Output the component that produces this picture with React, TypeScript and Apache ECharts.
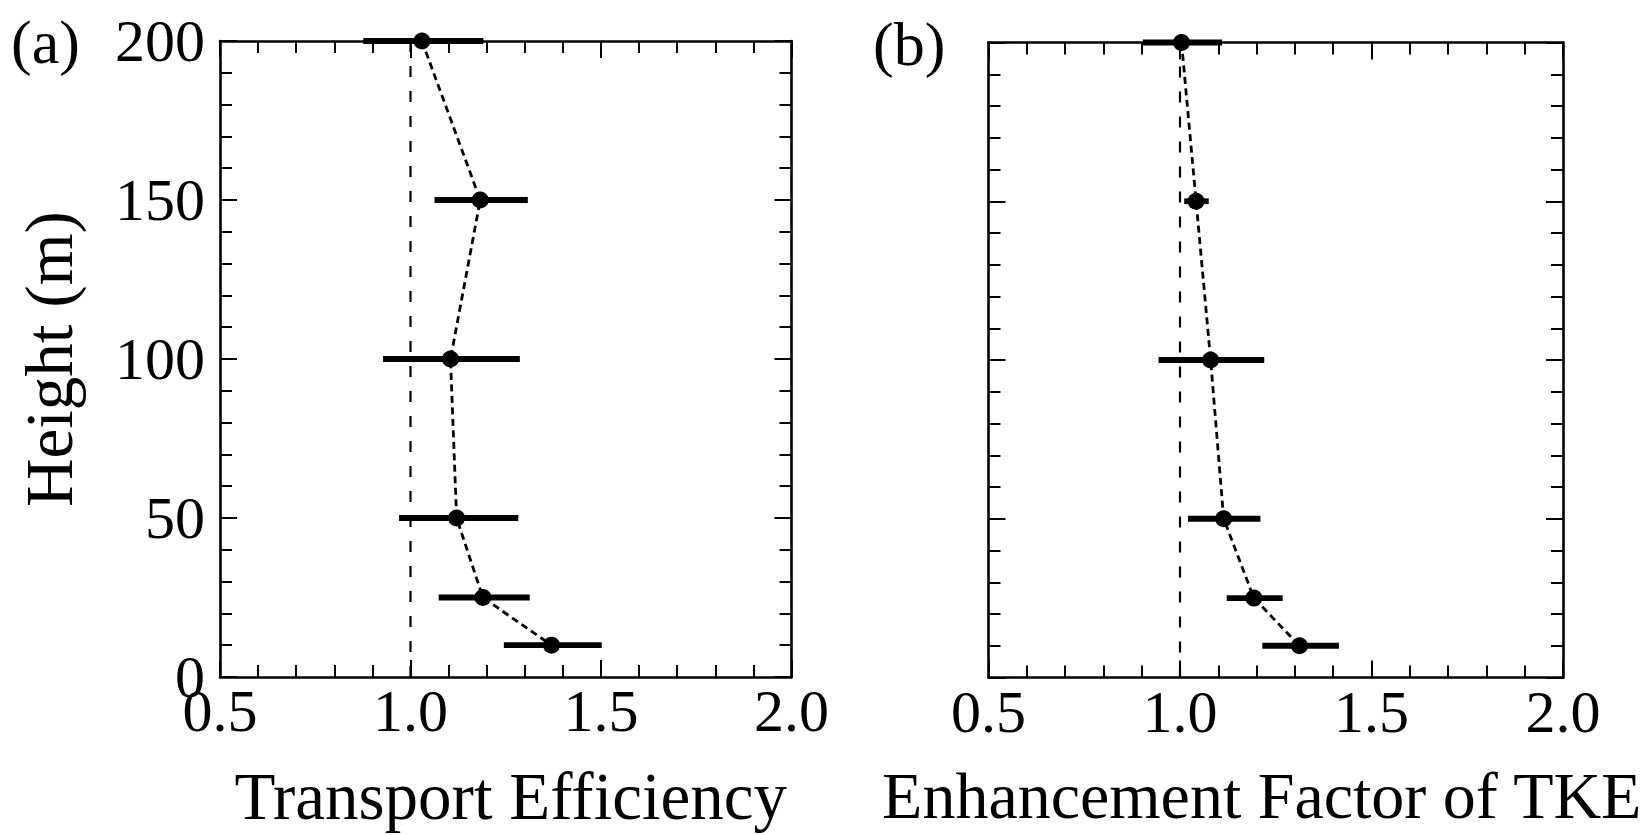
import React, { useEffect, useRef } from "react";
import * as echarts from "echarts";

// ---- data ----
const heights = [200, 150, 100, 50, 25, 10];
const teMean = [1.03, 1.183, 1.105, 1.121, 1.19, 1.37];
const teLow = [0.876, 1.063, 0.928, 0.97, 1.074, 1.245];
const teHigh = [1.191, 1.308, 1.287, 1.283, 1.313, 1.502];
const tkeMean = [1.004, 1.042, 1.08, 1.114, 1.193, 1.312];
const tkeLow = [0.903, 1.011, 0.944, 1.021, 1.122, 1.215];
const tkeHigh = [1.11, 1.075, 1.22, 1.21, 1.268, 1.415];
const refValue = 1.0;
const xRange = [0.5, 2.0];
const xStep = 0.5;
const yRange = [0, 200];
const yStep = 50;
const panelLabels = ["(a)", "(b)"];
const xNames = ["Transport Efficiency", "Enhancement Factor of TKE"];
const yName = "Height (m)";

const FONT = '"Liberation Serif", "Times New Roman", serif';
const BLACK = "#000";

const grids = [
  { left: 220, top: 41, width: 571.5, height: 636 },
  { left: 988.5, top: 42.5, width: 574.5, height: 635 },
];
const xNameFont = [67, 66];
const xNamePadding = [
  [0, 0, 0, 10],
  [0, 28, 0, 0],
];

function axisBase(gridIndex: number, isX: boolean) {
  return {
    type: "value",
    gridIndex,
    min: isX ? xRange[0] : yRange[0],
    max: isX ? xRange[1] : yRange[1],
    interval: isX ? xStep : yStep,
    axisLine: { show: true, onZero: false, lineStyle: { color: BLACK, width: 2.6 } },
    axisTick: { show: true, inside: true, length: 17, lineStyle: { color: BLACK, width: 2 } },
    minorTick: { show: true, splitNumber: 5, length: 12, lineStyle: { color: BLACK, width: 2 } },
    splitLine: { show: false },
    minorSplitLine: { show: false },
  };
}

function buildSeries(gridIndex: number, mean: number[], low: number[], high: number[]) {
  const xi = gridIndex * 2;
  const yi = gridIndex * 2;
  return [
    {
      type: "line",
      xAxisIndex: xi,
      yAxisIndex: yi,
      data: [
        [refValue, yRange[0]],
        [refValue, yRange[1]],
      ],
      symbol: "none",
      lineStyle: { color: BLACK, width: 2.2, type: [11, 14] },
      z: 1,
      silent: true,
    },
    {
      type: "custom",
      xAxisIndex: xi,
      yAxisIndex: yi,
      data: heights.map((h, i) => [low[i], high[i], h]),
      encode: { x: [0, 1], y: 2 },
      renderItem: (params: any, api: any) => {
        const p1 = api.coord([api.value(0), api.value(2)]);
        const p2 = api.coord([api.value(1), api.value(2)]);
        return {
          type: "line",
          shape: { x1: p1[0], y1: p1[1], x2: p2[0], y2: p2[1] },
          style: { stroke: BLACK, lineWidth: 5.8 },
        };
      },
      z: 2,
    },
    {
      type: "line",
      xAxisIndex: xi,
      yAxisIndex: yi,
      data: heights.map((h, i) => [mean[i], h]),
      symbol: "circle",
      symbolSize: 17,
      showSymbol: true,
      itemStyle: { color: BLACK },
      lineStyle: { color: BLACK, width: 2.8, type: [7, 4.5] },
      z: 3,
    },
  ];
}

export default function App() {
  const ref = useRef<HTMLDivElement>(null);
  useEffect(() => {
    if (!ref.current) return;
    const chart = echarts.init(ref.current, null, { renderer: "svg" });
    const xAxes: any[] = [];
    const yAxes: any[] = [];
    [0, 1].forEach((g) => {
      xAxes.push({
        ...axisBase(g, true),
        position: "bottom",
        name: xNames[g],
        nameLocation: "middle",
        nameGap: 85,
        nameTextStyle: {
          fontFamily: FONT,
          fontSize: xNameFont[g],
          color: BLACK,
          padding: xNamePadding[g],
        },
        axisLabel: {
          show: true,
          fontFamily: FONT,
          fontSize: 60,
          color: BLACK,
          margin: 4,
          formatter: (v: number) => v.toFixed(1),
        },
      });
      xAxes.push({ ...axisBase(g, true), position: "top", axisLabel: { show: false } });
      yAxes.push({
        ...axisBase(g, false),
        position: "left",
        name: g === 0 ? yName : "",
        nameLocation: "middle",
        nameGap: 138,
        nameTextStyle: { fontFamily: FONT, fontSize: 67, color: BLACK },
        axisLabel: {
          show: g === 0,
          fontFamily: FONT,
          fontSize: 60,
          color: BLACK,
          margin: 15,
        },
      });
      yAxes.push({ ...axisBase(g, false), position: "right", axisLabel: { show: false } });
    });

    chart.setOption({
      animation: false,
      backgroundColor: "#fff",
      grid: grids.map((g) => ({ ...g, containLabel: false, outerBoundsMode: "none" })),
      xAxis: xAxes,
      yAxis: yAxes,
      series: [
        ...buildSeries(0, teMean, teLow, teHigh),
        ...buildSeries(1, tkeMean, tkeLow, tkeHigh),
      ],
      graphic: [
        {
          type: "text",
          x: 11,
          y: 42,
          style: {
            text: panelLabels[0],
            fontFamily: FONT,
            fontSize: 62,
            fill: BLACK,
            align: "left",
            verticalAlign: "middle",
          },
        },
        {
          type: "text",
          x: 873,
          y: 44,
          style: {
            text: panelLabels[1],
            fontFamily: FONT,
            fontSize: 62,
            fill: BLACK,
            align: "left",
            verticalAlign: "middle",
          },
        },
      ],
    });
    return () => chart.dispose();
  }, []);
  return (
    <div
      ref={ref}
      style={{ position: "fixed", left: 0, top: 0, width: 1650, height: 835, background: "#fff" }}
    />
  );
}
